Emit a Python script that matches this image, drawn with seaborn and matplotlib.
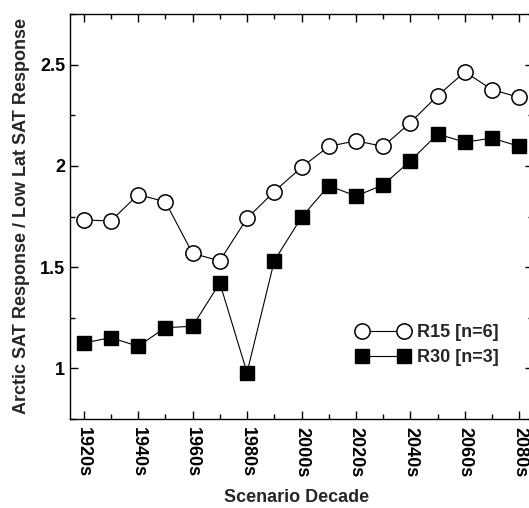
import numpy as np
import pandas as pd
import matplotlib
matplotlib.use("Agg")
import matplotlib.pyplot as plt
import seaborn as sns
from matplotlib.ticker import MultipleLocator

# decades and the Arctic / low-latitude SAT response ratio
decades = [1920, 1930, 1940, 1950, 1960, 1970, 1980, 1990, 2000,
           2010, 2020, 2030, 2040, 2050, 2060, 2070, 2080]
r15 = [1.733, 1.728, 1.858, 1.823, 1.568, 1.531, 1.741, 1.873, 1.993,
       2.096, 2.124, 2.096, 2.214, 2.347, 2.464, 2.376, 2.338]
r30 = [1.125, 1.152, 1.109, 1.201, 1.208, 1.422, 0.979, 1.531, 1.746,
       1.902, 1.851, 1.906, 2.025, 2.157, 2.117, 2.137, 2.096]
tick_decades = [1920, 1940, 1960, 1980, 2000, 2020, 2040, 2060, 2080]
tick_labels = [f"{d}s" for d in tick_decades]

sns.set_style("ticks")
plt.rcParams['font.family'] = ['Liberation Sans', 'DejaVu Sans']
plt.rcParams['font.weight'] = 'bold'

fig = plt.figure(figsize=(5.29, 5.08), dpi=100)
ax = fig.add_axes([70 / 529, 1 - 419 / 508, 463 / 529, 405 / 508])

sns.lineplot(x=decades, y=r15, ax=ax, color='black', lw=0.8,
             marker='o', markersize=11, markerfacecolor='white',
             markeredgecolor='black', markeredgewidth=1.1, label='R15 [n=6]')
sns.lineplot(x=decades, y=r30, ax=ax, color='black', lw=0.8,
             marker='s', markersize=9.5, markerfacecolor='black',
             markeredgecolor='black', markeredgewidth=1.0, label='R30 [n=3]')

ax.set_xlim(1915, 2085)
ax.set_ylim(0.75, 2.75)
ax.set_xticks(tick_decades)
ax.set_xticklabels(tick_labels, rotation=270)
ax.xaxis.set_minor_locator(MultipleLocator(10))
ax.set_yticks([1, 1.5, 2, 2.5])
ax.set_yticklabels(['1', '1.5', '2', '2.5'])
ax.yaxis.set_minor_locator(MultipleLocator(0.25))

ax.tick_params(which='both', direction='in', top=True, right=True,
               width=1.0, labelsize=13, colors='black')
ax.tick_params(which='major', length=6)
ax.tick_params(which='minor', length=3.5)
ax.tick_params(axis='x', which='major', pad=5.5)
ax.tick_params(axis='y', which='major', pad=3.5)
for sp in ax.spines.values():
    sp.set_linewidth(1.0)
    sp.set_color('black')

ax.set_xlabel('Scenario Decade', fontsize=13, fontweight='bold')
ax.set_ylabel('Arctic SAT Response / Low Lat SAT Response', fontsize=13,
              fontweight='bold')
ax.xaxis.set_label_coords(0.49, -0.172)
ax.yaxis.set_label_coords(-0.086, 0.5)

ax.legend(loc='upper left', bbox_to_anchor=(0.62, 0.235), frameon=False,
          numpoints=2, handlelength=2.9, handletextpad=0.4,
          labelspacing=0.45, borderpad=0, borderaxespad=0,
          prop={'size': 13, 'weight': 'bold'})

fig.savefig('out.png', dpi=100)
